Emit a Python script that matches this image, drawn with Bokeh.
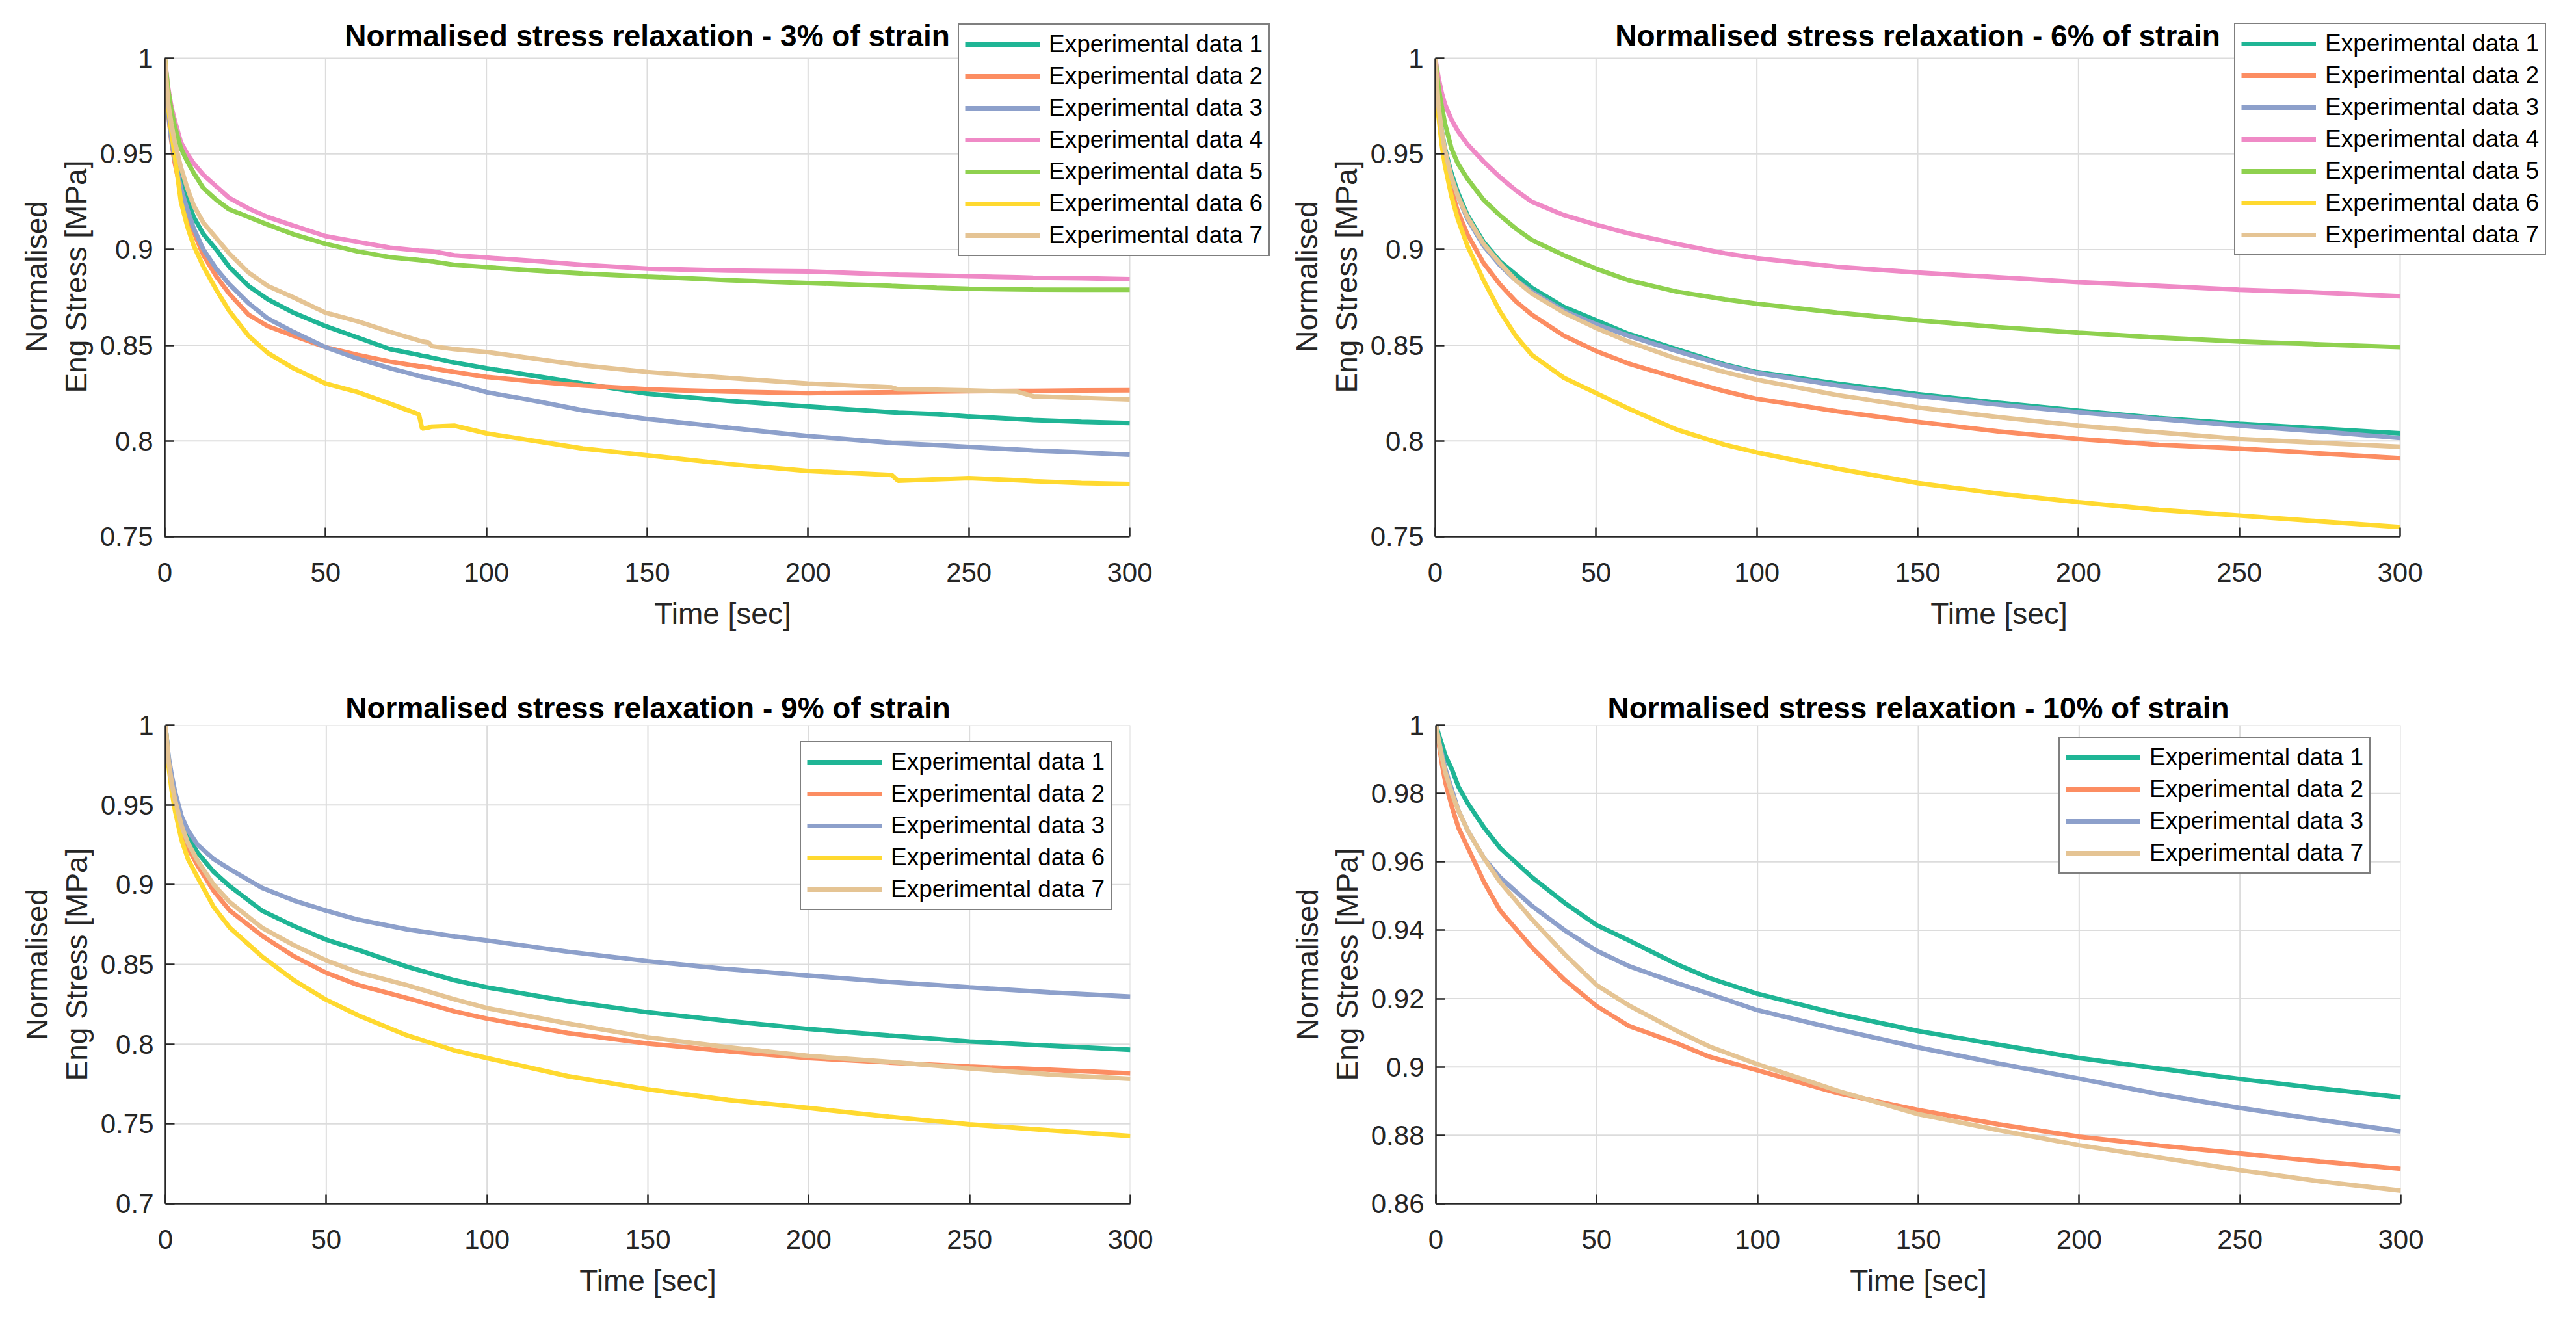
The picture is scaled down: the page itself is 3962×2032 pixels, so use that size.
from bokeh.plotting import figure
from bokeh.models import Legend, LegendItem, FixedTicker, CustomJSTickFormatter, Range1d, Label
from bokeh.layouts import column, row
from bokeh.embed import file_html
from bokeh.resources import INLINE

# ---------------- data ----------------
LABELS = {k: "Experimental data %d" % k for k in range(1, 8)}
COLORS = {1: "#1fb595", 2: "#fc8d62", 3: "#8da0cb", 4: "#ef8ac6",
          5: "#8fd14f", 6: "#ffd92f", 7: "#e5c494"}

X_TICKS = [0, 50, 100, 150, 200, 250, 300]

# 3% strain
T3 = [0, 1, 2, 3, 5, 7, 9, 12, 16, 20, 26, 32, 40, 50, 60, 70, 79, 80, 82, 83, 90,
      100, 115, 130, 150, 175, 200, 226, 228, 240, 250, 265, 270, 285, 300]
S3_1 = [1, .975, .962, .952, .937, .926, .917, .908, .900, .891, .881, .874, .867, .860,
        .854, .848, .845, .8445, .844, .8435, .841, .838, .834, .830, .8247, .821, .818,
        .815, .8148, .814, .8128, .8115, .811, .810, .8094]
S3_2 = [1, .972, .957, .946, .930, .918, .909, .897, .886, .877, .866, .860, .855, .849,
        .845, .8415, .839, .839, .8385, .838, .836, .8335, .831, .829, .827, .8258, .825,
        .8255, .8255, .8258, .826, .8262, .8262, .8264, .8265]
S3_3 = [1, .973, .958, .948, .932, .921, .911, .900, .890, .882, .872, .864, .857, .849,
        .843, .838, .834, .8335, .833, .8325, .830, .8255, .821, .816, .8115, .807, .8026,
        .799, .7988, .7978, .7969, .7955, .795, .794, .7928]
S3_4 = [1, .985, .975, .968, .956, .950, .945, .939, .933, .927, .9215, .917, .9125, .907,
        .904, .901, .8995, .8994, .8992, .8991, .897, .8958, .894, .892, .890, .889, .8886,
        .887, .8869, .8865, .886, .8855, .8853, .885, .8845]
S3_5 = [1, .984, .973, .965, .953, .946, .940, .932, .926, .921, .917, .913, .908, .903,
        .899, .896, .8945, .8944, .894, .8938, .892, .8908, .889, .8875, .8859, .884, .8825,
        .881, .8809, .880, .8795, .8792, .8791, .879, .879]
S3_6 = [1, .975, .962, .950, .925, .912, .902, .891, .879, .868, .855, .846, .838, .830,
        .8255, .8195, .8139, .8065, .807, .8075, .808, .804, .800, .796, .7925, .788, .7843,
        .7822, .7792, .7800, .7806, .7795, .779, .778, .7775]
S3_7 = [1, .977, .966, .957, .943, .932, .923, .914, .906, .898, .888, .881, .875, .867,
        .8625, .857, .8525, .852, .8515, .8495, .848, .8465, .843, .8395, .836, .833, .830,
        .828, .827, .8268, .8264, .8258, .8234, .8225, .8217]

# 6% strain
T6 = [0, 1, 2, 3, 5, 7, 10, 15, 20, 25, 30, 40, 50, 60, 75, 90, 100, 125, 150, 175, 200,
      225, 250, 275, 300]
S6_1 = [1, .975, .962, .953, .940, .930, .918, .904, .894, .887, .880, .870, .863, .856,
        .848, .840, .836, .830, .8245, .820, .8158, .812, .809, .8065, .804]
S6_2 = [1, .972, .957, .946, .931, .920, .908, .893, .882, .873, .866, .855, .847, .8405,
        .833, .826, .822, .8155, .810, .805, .801, .798, .796, .7935, .791]
S6_3 = [1, .975, .962, .952, .938, .928, .916, .902, .892, .884, .878, .868, .861, .855,
        .847, .8395, .8355, .829, .8235, .819, .815, .8115, .808, .805, .8015]
S6_4 = [1, .990, .982, .976, .968, .962, .955, .946, .938, .931, .925, .918, .913, .9085,
        .903, .898, .8955, .891, .888, .8855, .883, .881, .879, .8775, .8756]
S6_5 = [1, .985, .975, .966, .953, .945, .937, .926, .918, .911, .905, .897, .890, .884,
        .878, .874, .8717, .867, .863, .8595, .8566, .854, .852, .8505, .849]
S6_6 = [1, .970, .955, .944, .928, .916, .902, .884, .868, .855, .845, .833, .825, .817,
        .806, .798, .794, .7855, .778, .7725, .768, .764, .761, .758, .755]
S6_7 = [1, .975, .962, .952, .938, .928, .917, .903, .893, .884, .877, .867, .859, .852,
        .843, .836, .832, .824, .8175, .8125, .808, .8045, .801, .799, .797]

# 9% strain
T9 = [0, 1, 2, 3, 5, 7, 10, 15, 20, 30, 40, 50, 60, 75, 90, 100, 125, 150, 175, 200, 225,
      250, 275, 300]
S9_1 = [1, .978, .965, .955, .940, .930, .920, .908, .899, .8837, .874, .8655, .859, .8486,
        .840, .8356, .827, .820, .8145, .8095, .8055, .8017, .799, .7965]
S9_2 = [1, .976, .962, .951, .935, .923, .912, .896, .8837, .868, .855, .8447, .837, .829,
        .8205, .816, .807, .8004, .7955, .7913, .7885, .786, .784, .7817]
S9_3 = [1, .980, .968, .958, .943, .934, .925, .916, .9097, .898, .890, .8837, .878, .872,
        .8675, .865, .858, .852, .847, .843, .839, .8356, .8325, .8298]
S9_6 = [1, .974, .958, .946, .928, .916, .9045, .886, .873, .855, .840, .8278, .818, .8056,
        .796, .7913, .780, .7717, .765, .760, .7545, .7497, .746, .7424]
S9_7 = [1, .977, .963, .953, .937, .926, .915, .900, .889, .873, .862, .8525, .845, .837,
        .828, .8226, .813, .8043, .798, .7926, .789, .7848, .781, .7783]

# 10% strain
T10 = [0, 1, 2, 3, 5, 7, 10, 15, 20, 30, 40, 50, 60, 75, 85, 100, 125, 150, 175, 200, 225,
       250, 275, 300]
S10_1 = [1, .997, .994, .991, .987, .982, .977, .970, .964, .9554, .948, .9415, .937, .930,
         .926, .9214, .9155, .9105, .9065, .9026, .8995, .8965, .8937, .8911]
S10_2 = [1, .994, .988, .983, .976, .970, .964, .954, .9457, .9348, .9255, .9178, .912,
         .9069, .903, .899, .8923, .8874, .8832, .8796, .877, .8747, .8723, .8702]
S10_3 = [1, .995, .991, .987, .981, .975, .969, .961, .9554, .947, .940, .934, .9295, .9245,
         .9214, .9166, .911, .9057, .901, .8966, .892, .888, .8845, .8811]
S10_7 = [1, .995, .990, .986, .980, .975, .969, .961, .954, .943, .933, .9239, .918, .9105,
         .906, .9008, .893, .8862, .8815, .8771, .8735, .8698, .8665, .8638]

Y_TICKS_3 = [0.75, 0.8, 0.85, 0.9, 0.95, 1.0]
Y_TICKS_9 = [0.7, 0.75, 0.8, 0.85, 0.9, 0.95, 1.0]
Y_TICKS_10 = [0.86, 0.88, 0.9, 0.92, 0.94, 0.96, 0.98, 1.0]

# ---------------- styling ----------------
FONT = "Liberation Sans"
FW, FH = 1484, 736          # plotting area (0..300 x y-range)
PW, PH = 1973, 1008         # figure size
X_MAX = 300.0


def make_panel(title, t, series, yr, yticks, left, top, legend_xy, ext_top, ext_right):
    """ext_top / ext_right: extra frame pixels beyond the data area so the
    legend (which reaches outside the axes in the reference) is not clipped."""
    right = PW - left - FW
    bottom = PH - top - FH
    y0, y1 = yr
    fw = FW + ext_right
    fh = FH + ext_top
    p = figure(frame_width=fw, frame_height=fh,
               min_border_left=left, min_border_right=right - ext_right,
               min_border_top=top - ext_top, min_border_bottom=bottom,
               x_range=Range1d(0, X_MAX * fw / FW),
               y_range=Range1d(y0, y0 + (y1 - y0) * fh / FH),
               output_backend="svg", toolbar_location=None, tools="")
    p.background_fill_color = "white"
    p.border_fill_color = "white"
    p.outline_line_color = None
    p.xgrid.visible = False
    p.ygrid.visible = False

    # grid lines limited to the axes box
    p.segment(x0=X_TICKS, y0=[y0] * len(X_TICKS), x1=X_TICKS, y1=[y1] * len(X_TICKS),
              line_color="#dcdcdc", line_width=2)
    p.segment(x0=[0] * len(yticks), y0=yticks, x1=[X_MAX] * len(yticks), y1=yticks,
              line_color="#dcdcdc", line_width=2)

    if ext_top > 0:
        p.add_layout(Label(x=X_MAX / 2, y=FH + 35, x_units="data", y_units="screen",
                           text=title, text_align="center", text_baseline="middle",
                           text_font=FONT, text_font_size="46px", text_font_style="bold",
                           text_color="black"))
    else:
        p.title.text = title
        p.title.align = "center"
        p.title.text_font = FONT
        p.title.text_font_size = "46px"
        p.title.text_font_style = "bold"
        p.title.text_color = "black"
        p.title.standoff = 2

    items = []
    for k, vals in series:
        r = p.line(t, vals, line_color=COLORS[k], line_width=7)
        items.append(LegendItem(label=LABELS[k], renderers=[r]))

    p.xaxis.ticker = FixedTicker(ticks=X_TICKS)
    p.yaxis.ticker = FixedTicker(ticks=yticks)
    p.xaxis.bounds = (0, X_MAX)
    p.yaxis.bounds = (y0, y1)
    fmt = "return (Math.round(tick*1000)/1000).toString()"
    p.xaxis.formatter = CustomJSTickFormatter(code=fmt)
    p.yaxis.formatter = CustomJSTickFormatter(code=fmt)
    for ax in (p.xaxis, p.yaxis):
        ax.axis_line_color = "#262626"
        ax.axis_line_width = 2.5
        ax.major_tick_in = 14
        ax.major_tick_out = 0
        ax.major_tick_line_width = 2.5
        ax.major_tick_line_color = "#262626"
        ax.minor_tick_line_color = None
        ax.major_label_text_font = FONT
        ax.major_label_text_font_size = "42px"
        ax.major_label_text_color = "#262626"
        ax.axis_label_text_font = FONT
        ax.axis_label_text_font_size = "46px"
        ax.axis_label_text_font_style = "normal"
        ax.axis_label_text_color = "#262626"
    p.xaxis.axis_label = "Time [sec]"
    p.yaxis.axis_label = "Normalised\nEng Stress [MPa]"
    p.yaxis.axis_label_text_line_height = 1.17
    p.xaxis.major_label_standoff = 40
    p.yaxis.major_label_standoff = 18
    p.xaxis.axis_label_standoff = 20
    p.yaxis.axis_label_standoff = 8

    leg = Legend(items=items, location=legend_xy)
    leg.label_text_font = FONT
    leg.label_text_font_size = "37px"
    leg.label_text_color = "black"
    leg.glyph_width = 115
    leg.glyph_height = 36
    leg.label_height = 36
    leg.label_standoff = 14
    leg.spacing = 7
    leg.padding = 9
    leg.margin = 0
    leg.border_line_color = "black"
    leg.border_line_width = 2
    leg.background_fill_color = "white"
    leg.background_fill_alpha = 1.0
    p.add_layout(leg)
    return p


p1 = make_panel("Normalised stress relaxation - 3% of strain", T3,
                [(1, S3_1), (2, S3_2), (3, S3_3), (4, S3_4), (5, S3_5), (6, S3_6), (7, S3_7)],
                (0.75, 1.0), Y_TICKS_3, 253, 89, (1220, 431), 64, 232)
p2 = make_panel("Normalised stress relaxation - 6% of strain", T6,
                [(1, S6_1), (2, S6_2), (3, S6_3), (4, S6_4), (5, S6_5), (6, S6_6), (7, S6_7)],
                (0.75, 1.0), Y_TICKS_3, 234, 89, (1229, 432), 64, 250)
p3 = make_panel("Normalised stress relaxation - 9% of strain", T9,
                [(1, S9_1), (2, S9_2), (3, S9_3), (6, S9_6), (7, S9_7)],
                (0.7, 1.0), Y_TICKS_9, 254, 107, (976, 451), 0, 0)
p4 = make_panel("Normalised stress relaxation - 10% of strain", T10,
                [(1, S10_1), (2, S10_2), (3, S10_3), (7, S10_7)],
                (0.86, 1.0), Y_TICKS_10, 235, 107, (958, 507), 0, 0)

layout = column(row(p1, p2), row(p3, p4))
open("out.html", "w").write(file_html(layout, INLINE))
